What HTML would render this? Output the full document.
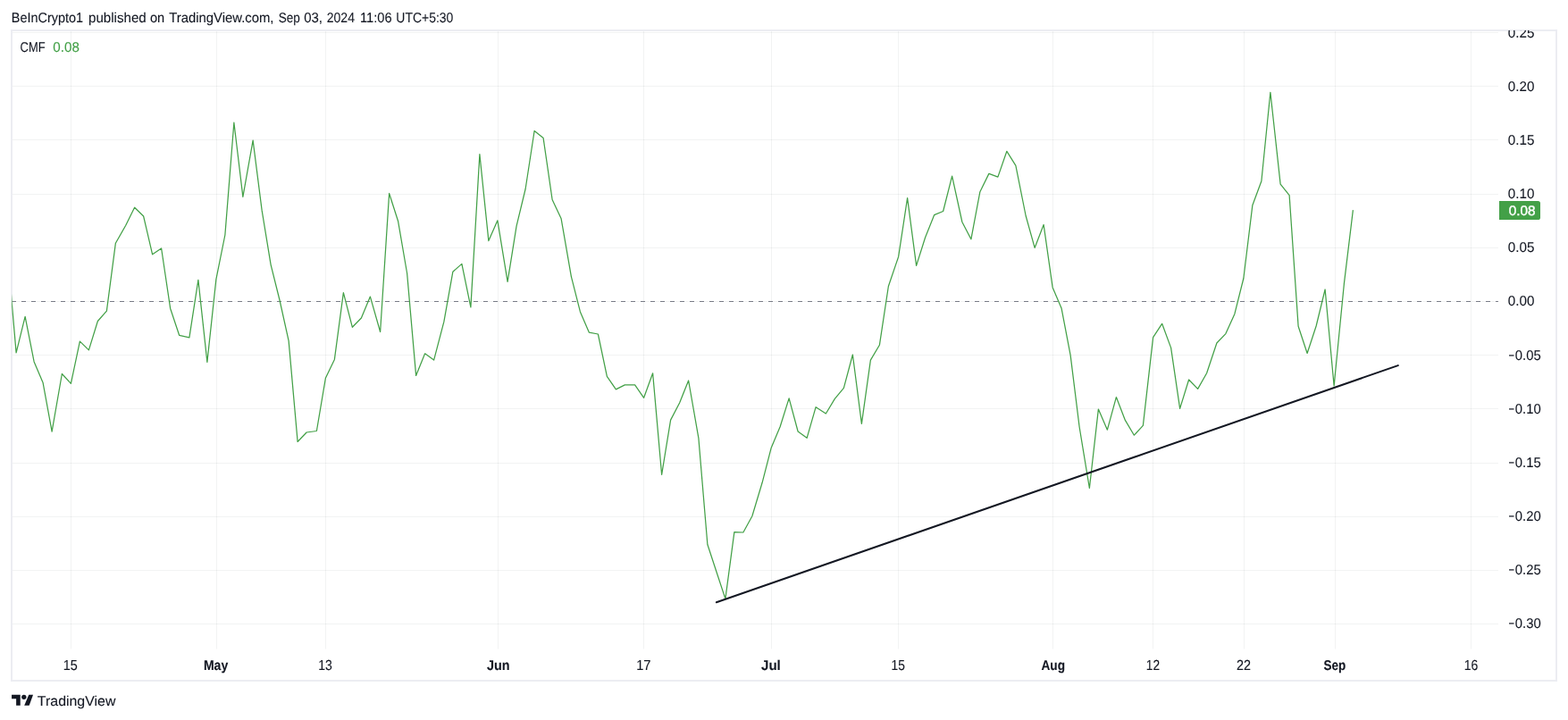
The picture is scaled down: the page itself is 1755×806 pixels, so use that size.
<!DOCTYPE html>
<html lang="en">
<head>
<meta charset="utf-8">
<title>CMF chart - TradingView</title>
<style>
html,body{margin:0;padding:0;background:#fff;}
body{width:1755px;height:806px;overflow:hidden;position:relative;font-family:"Liberation Sans", "DejaVu Sans", sans-serif;color:#131722;}
svg{position:absolute;left:0;top:0;display:block;}
text{font-family:"Liberation Sans", "DejaVu Sans", sans-serif;font-size:15px;fill:#131722;stroke:#131722;stroke-width:0.1px;text-rendering:geometricPrecision;}
.b{font-weight:bold;}
</style>
</head>
<body>
<svg width="1755" height="806" viewBox="0 0 1755 806">
<defs><clipPath id="pane"><rect x="13.2" y="35" width="1663.8" height="691.5"/></clipPath>
<clipPath id="zero"><rect x="13.5" y="35" width="1663.5" height="691.5"/></clipPath>
<clipPath id="axis"><rect x="1677" y="34" width="65" height="700"/></clipPath></defs>
<rect x="0" y="0" width="1755" height="806" fill="#fff"/>

<g stroke="rgba(42,46,57,0.06)" stroke-width="1" fill="none">
<line x1="14" y1="36.5" x2="1677" y2="36.5"/>
<line x1="14" y1="96.5" x2="1677" y2="96.5"/>
<line x1="14" y1="156.5" x2="1677" y2="156.5"/>
<line x1="14" y1="217.5" x2="1677" y2="217.5"/>
<line x1="14" y1="277.5" x2="1677" y2="277.5"/>
<line x1="14" y1="337.5" x2="1677" y2="337.5"/>
<line x1="14" y1="397.5" x2="1677" y2="397.5"/>
<line x1="14" y1="457.5" x2="1677" y2="457.5"/>
<line x1="14" y1="518.5" x2="1677" y2="518.5"/>
<line x1="14" y1="578.5" x2="1677" y2="578.5"/>
<line x1="14" y1="638.5" x2="1677" y2="638.5"/>
<line x1="14" y1="698.5" x2="1677" y2="698.5"/>
<line x1="79.5" y1="35" x2="79.5" y2="726.5"/>
<line x1="242.5" y1="35" x2="242.5" y2="726.5"/>
<line x1="364.5" y1="35" x2="364.5" y2="726.5"/>
<line x1="557.5" y1="35" x2="557.5" y2="726.5"/>
<line x1="720.5" y1="35" x2="720.5" y2="726.5"/>
<line x1="863.5" y1="35" x2="863.5" y2="726.5"/>
<line x1="1005.5" y1="35" x2="1005.5" y2="726.5"/>
<line x1="1178.5" y1="35" x2="1178.5" y2="726.5"/>
<line x1="1290.5" y1="35" x2="1290.5" y2="726.5"/>
<line x1="1392.5" y1="35" x2="1392.5" y2="726.5"/>
<line x1="1494.5" y1="35" x2="1494.5" y2="726.5"/>
<line x1="1646.5" y1="35" x2="1646.5" y2="726.5"/>
</g>
<rect x="13" y="34" width="1729" height="728" fill="none" stroke="#ecedf2" stroke-width="2"/>
<line x1="13" y1="337.5" x2="1677" y2="337.5" stroke="#787b86" stroke-width="1.1" stroke-dasharray="5 6" clip-path="url(#zero)"/>
<path d="M8.12 280.0 L18.12 394.9 L28.12 354.3 L38.12 404.9 L48.12 428.6 L58.12 483.2 L69.38 418.5 L79.38 429.4 L89.38 382.1 L99.38 391.9 L109.38 359.5 L119.38 348.2 L129.38 272.2 L140.62 252.5 L150.62 232.2 L160.62 242.0 L170.62 284.8 L180.62 278.0 L190.62 345.2 L200.62 375.3 L211.88 377.8 L221.88 313.4 L231.88 405.4 L241.88 312.6 L251.88 263.0 L261.88 137.2 L271.88 220.4 L283.12 157.2 L293.12 235.4 L303.12 296.3 L313.12 336.5 L323.12 381.6 L333.12 494.5 L343.12 484.0 L354.38 482.5 L364.38 423.3 L374.38 402.4 L384.38 327.7 L394.38 366.3 L404.38 356.0 L414.38 332.1 L425.62 371.5 L435.62 216.5 L445.62 247.8 L455.62 306.0 L465.62 420.4 L475.62 395.8 L485.62 403.1 L496.88 360.2 L506.88 304.2 L516.88 295.4 L526.88 343.9 L536.88 172.6 L546.88 269.6 L556.88 246.8 L568.12 315.3 L578.12 252.8 L588.12 211.5 L598.12 146.5 L608.12 154.6 L618.12 223.5 L628.12 244.8 L639.38 309.6 L649.38 348.9 L659.38 372.2 L669.38 374.0 L679.38 421.4 L689.38 435.9 L699.38 430.9 L710.62 430.9 L720.62 445.3 L730.62 417.8 L740.62 531.3 L750.62 470.1 L760.62 451.0 L770.62 426.0 L781.88 490.3 L791.88 609.5 L801.88 640.0 L811.88 670.4 L821.88 595.7 L831.88 596.0 L841.88 577.8 L853.12 540.3 L863.12 501.6 L873.12 477.8 L883.12 445.9 L893.12 483.0 L903.12 490.3 L913.12 455.7 L924.38 463.0 L934.38 446.4 L944.38 434.4 L954.38 397.0 L964.38 474.3 L974.38 403.1 L984.38 386.3 L994.38 320.5 L1005.62 287.4 L1015.62 221.7 L1025.62 297.4 L1035.62 265.8 L1045.62 240.7 L1055.62 236.5 L1065.62 197.1 L1076.88 248.5 L1086.88 267.8 L1096.88 214.7 L1106.88 194.4 L1116.88 198.1 L1126.88 169.3 L1136.88 185.3 L1148.12 241.5 L1158.12 277.4 L1168.12 251.5 L1178.12 321.7 L1188.12 345.3 L1198.12 397.7 L1208.12 478.0 L1219.38 546.5 L1229.38 458.1 L1239.38 481.2 L1249.38 444.6 L1259.38 470.4 L1269.38 487.2 L1279.38 476.4 L1290.62 377.6 L1300.62 362.3 L1310.62 389.4 L1320.62 457.4 L1330.62 425.0 L1340.62 435.4 L1350.62 417.8 L1361.88 384.0 L1371.88 373.6 L1381.88 351.4 L1391.88 311.5 L1401.88 229.7 L1411.88 202.8 L1421.88 103.3 L1433.12 206.1 L1443.12 218.6 L1453.12 365.2 L1463.12 395.5 L1473.12 365.0 L1483.12 324.0 L1493.12 432.0 L1504.38 317.7 L1514.38 235.2" fill="none" stroke="#43a047" stroke-width="1.25" stroke-linejoin="round" stroke-linecap="butt" clip-path="url(#pane)"/>
<line x1="801.9" y1="674.3" x2="1564.8" y2="409.1" stroke="#131722" stroke-width="2" stroke-linecap="round"/>
<g clip-path="url(#axis)">
<text x="1687.86" y="42.20" textLength="29.63" lengthAdjust="spacingAndGlyphs" style="font-size:15.5px;">0.25</text>
<text x="1687.86" y="101.90" textLength="29.59" lengthAdjust="spacingAndGlyphs" style="font-size:15.5px;">0.20</text>
<text x="1687.86" y="162.04" textLength="29.63" lengthAdjust="spacingAndGlyphs" style="font-size:15.5px;">0.15</text>
<text x="1687.86" y="222.18" textLength="29.59" lengthAdjust="spacingAndGlyphs" style="font-size:15.5px;">0.10</text>
<text x="1687.86" y="282.32" textLength="29.63" lengthAdjust="spacingAndGlyphs" style="font-size:15.5px;">0.05</text>
<text x="1687.86" y="342.46" textLength="29.59" lengthAdjust="spacingAndGlyphs" style="font-size:15.5px;">0.00</text>
<text y="402.60" style="font-size:15.5px;"><tspan x="1688.60" textLength="6.49" lengthAdjust="spacingAndGlyphs">−</tspan><tspan x="1695.77" textLength="28.90" lengthAdjust="spacingAndGlyphs">0.05</tspan></text>
<text y="462.74" style="font-size:15.5px;"><tspan x="1688.60" textLength="6.49" lengthAdjust="spacingAndGlyphs">−</tspan><tspan x="1695.77" textLength="28.86" lengthAdjust="spacingAndGlyphs">0.10</tspan></text>
<text y="522.88" style="font-size:15.5px;"><tspan x="1688.60" textLength="6.49" lengthAdjust="spacingAndGlyphs">−</tspan><tspan x="1695.77" textLength="28.90" lengthAdjust="spacingAndGlyphs">0.15</tspan></text>
<text y="583.02" style="font-size:15.5px;"><tspan x="1688.60" textLength="6.49" lengthAdjust="spacingAndGlyphs">−</tspan><tspan x="1695.77" textLength="28.86" lengthAdjust="spacingAndGlyphs">0.20</tspan></text>
<text y="643.16" style="font-size:15.5px;"><tspan x="1688.60" textLength="6.49" lengthAdjust="spacingAndGlyphs">−</tspan><tspan x="1695.77" textLength="28.90" lengthAdjust="spacingAndGlyphs">0.25</tspan></text>
<text y="703.30" style="font-size:15.5px;"><tspan x="1688.60" textLength="6.49" lengthAdjust="spacingAndGlyphs">−</tspan><tspan x="1695.77" textLength="28.86" lengthAdjust="spacingAndGlyphs">0.30</tspan></text>
</g>
<path d="M1678 225 H1721.4 Q1724 225 1724 227.6 V243.4 Q1724 246 1721.4 246 H1678 Z" fill="#43a047"/>
<text x="1688.65" y="241.00" textLength="29.76" lengthAdjust="spacingAndGlyphs" style="font-size:15.5px;fill:#fff;stroke:#fff;stroke-width:0.4px;">0.08</text>
<text x="70.75" y="750.00" textLength="16.00" lengthAdjust="spacingAndGlyphs" style="font-size:16px;">15</text>
<text x="227.91" y="750.00" textLength="27.32" lengthAdjust="spacingAndGlyphs" class="b" style="font-size:15.6px;">May</text>
<text x="356.18" y="750.00" textLength="15.58" lengthAdjust="spacingAndGlyphs" style="font-size:16px;">13</text>
<text x="545.03" y="750.00" textLength="25.61" lengthAdjust="spacingAndGlyphs" class="b" style="font-size:15.6px;">Jun</text>
<text x="712.13" y="750.00" textLength="16.36" lengthAdjust="spacingAndGlyphs" style="font-size:16px;">17</text>
<text x="852.02" y="750.00" textLength="21.80" lengthAdjust="spacingAndGlyphs" class="b" style="font-size:15.6px;">Jul</text>
<text x="997.60" y="750.00" textLength="15.33" lengthAdjust="spacingAndGlyphs" style="font-size:16px;">15</text>
<text x="1165.51" y="750.00" textLength="26.55" lengthAdjust="spacingAndGlyphs" class="b" style="font-size:15.6px;">Aug</text>
<text x="1282.81" y="750.00" textLength="15.23" lengthAdjust="spacingAndGlyphs" style="font-size:16px;">12</text>
<text x="1383.93" y="750.00" textLength="15.94" lengthAdjust="spacingAndGlyphs" style="font-size:16px;">22</text>
<text x="1481.46" y="750.00" textLength="24.85" lengthAdjust="spacingAndGlyphs" class="b" style="font-size:15.6px;">Sep</text>
<text x="1638.78" y="750.00" textLength="15.58" lengthAdjust="spacingAndGlyphs" style="font-size:16px;">16</text>
<text y="25.00" style="font-size:15.5px;"><tspan x="12.87" textLength="80.19" lengthAdjust="spacingAndGlyphs">BeInCrypto1</tspan> <tspan x="98.98" textLength="64.75" lengthAdjust="spacingAndGlyphs">published</tspan> <tspan x="167.94" textLength="16.26" lengthAdjust="spacingAndGlyphs">on</tspan> <tspan x="189.22" textLength="117.27" lengthAdjust="spacingAndGlyphs">TradingView.com,</tspan> <tspan x="311.74" textLength="24.08" lengthAdjust="spacingAndGlyphs">Sep</tspan> <tspan x="340.16" textLength="20.83" lengthAdjust="spacingAndGlyphs">03,</tspan> <tspan x="365.74" textLength="31.22" lengthAdjust="spacingAndGlyphs">2024</tspan> <tspan x="402.93" textLength="35.66" lengthAdjust="spacingAndGlyphs">11:06</tspan> <tspan x="443.37" textLength="63.92" lengthAdjust="spacingAndGlyphs">UTC+5:30</tspan></text>
<text x="22.59" y="58.30" textLength="27.97" lengthAdjust="spacingAndGlyphs" style="font-size:15.5px;">CMF</text>
<text x="59.36" y="58.30" textLength="29.55" lengthAdjust="spacingAndGlyphs" style="font-size:15.5px;fill:#43a047;stroke:#43a047;">0.08</text>
<g fill="#131722"><path d="M13.06 777.8 H22.74 V789.7 H18.13 V782.3 H13.06 Z"/><circle cx="26.82" cy="780.34" r="2.65"/><path d="M32.27 777.8 H37.04 L32.7 789.7 H27.2 Z"/></g>
<text x="41.89" y="790.00" textLength="87.52" lengthAdjust="spacingAndGlyphs" style="font-size:15.6px;">TradingView</text>
</svg>
</body>
</html>
